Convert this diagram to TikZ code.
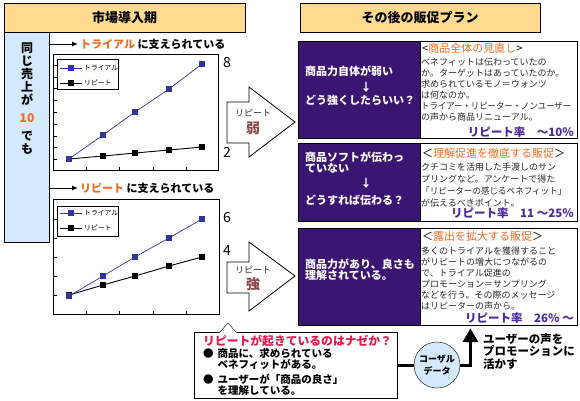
\documentclass[tikz,border=0pt]{standalone}
\usepackage{fontspec}
\setmainfont{Noto Sans CJK JP}
\usetikzlibrary{arrows.meta,positioning}
\definecolor{MktHead}{HTML}{FFDA8F}
\definecolor{MktSky}{HTML}{D4EAFC}
\definecolor{MktPlum}{HTML}{3A1572}
\definecolor{MktOrange}{HTML}{F26B1D}
\definecolor{MktRate}{HTML}{4B2A99}
\definecolor{MktRed}{HTML}{E8174A}
\definecolor{MktNavy}{HTML}{333399}
\definecolor{MktBrown}{HTML}{8A4848}
\definecolor{MktInk}{HTML}{2A2A2A}
\tikzset{
  mkthead/.style={
    draw=black,
    fill=MktHead,
    minimum height=29pt,
    inner sep=0pt,
    font=\bfseries\fontsize{13}{15}\selectfont
  },
  mktplum/.style={draw=black,fill=MktPlum,minimum width=122pt,inner sep=0pt},
  mktnote/.style={draw=black,fill=white,minimum width=157pt,inner sep=0pt},
  mktplumtext/.style={anchor=west,inner sep=0pt,align=left,text=white,font=\bfseries\fontsize{11}{11}\selectfont},
  mkttitle/.style={anchor=west,inner sep=0pt,font=\fontsize{11}{12}\selectfont},
  mktbody/.style={anchor=north west,inner sep=0pt,align=left,text=MktInk,font=\fontsize{9}{11}\selectfont},
  mktrate/.style={anchor=east,inner sep=0pt,text=MktRate,font=\bfseries\fontsize{11.5}{12}\selectfont},
  mktcap/.style={anchor=west,inner sep=0pt,font=\bfseries\fontsize{11}{12}\selectfont},
  mktchart/.style={draw=black,fill=white,inner sep=0pt},
  mktlegend/.style={anchor=west,inner sep=0pt,font=\fontsize{6.8}{7}\selectfont},
  mktnum/.style={inner sep=0pt,font=\fontsize{14}{16}\selectfont},
  mktbig/.style={draw=black,fill=white,line width=0.8pt,line join=miter},
  mktsmall/.style={inner sep=0pt,text=MktInk,font=\fontsize{9}{10}\selectfont},
  mktmark/.style={inner sep=0pt,text=MktBrown,font=\bfseries\fontsize{14}{15}\selectfont},
  mktwhy/.style={anchor=west,inner sep=0pt,align=left,font=\bfseries\fontsize{10.5}{10.5}\selectfont},
  mkttrial/.style={draw=MktNavy,line width=0.7pt},
  mktrepeat/.style={draw=black,line width=0.9pt},
  mktpointer/.style={-{Latex[length=6pt,width=5pt]},line width=1pt,shorten >=2pt},
  mktthick/.style={line width=3pt}
}
\begin{document}
\begin{tikzpicture}[x=1pt,y=-1pt]
    \useasboundingbox (0,0) rectangle (580,400);
    \node[mkthead,minimum width=241pt] (stagehead) at (124.5,17.5) {市場導入期};
    \node[mkthead,minimum width=240pt] (planhead) at (420,17.5) {その後の販促プラン};
    \node[draw=black,fill=MktSky,minimum width=45pt,minimum height=210pt,inner sep=0pt] (samecol) at (26.5,137) {};
    \node[align=center,inner sep=0pt,font=\bfseries\fontsize{12}{13}\selectfont] (samelbl) at (27,99) {同\\じ\\売\\上\\が\\[5pt]{\color{MktOrange}10}\\[5pt]で\\も};
    \node[mktcap] (trialcap) at (80,44) {{\color{MktOrange}トライアル} に支えられている};
    \node[mktcap] (repeatcap) at (80,188) {{\color{MktOrange}リピート} に支えられている};
    \draw[mktpointer] (samecol.east |- trialcap.west) -- (trialcap.west);
    \draw[mktpointer] (samecol.east |- repeatcap.west) -- (repeatcap.west);
    \node[mktchart,minimum width=165pt,minimum height=116pt] (chartA) at (135.5,112) {};
    \node[mktchart,minimum width=166pt,minimum height=115pt] (chartB) at (136,256.5) {};
    \foreach \ty in {65,77,88,100,112,124,136,147,159}
      \draw (53,\ty) -- (57,\ty);
    \foreach \ty in {219,238,257,276,295}
      \draw (53,\ty) -- (57,\ty);
    \foreach \tx in {86,119,153,186} {
      \draw (\tx,170) -- (\tx,167);
      \draw (\tx,314) -- (\tx,311);
    }
    \draw[mktrepeat] (69,159) -- (103,156) -- (135,153) -- (169,150) -- (202,147);
    \draw[mkttrial] (69,159) -- (103,135) -- (135,112) -- (169,89) -- (202,64);
    \draw[mktrepeat] (69,295) -- (103,285) -- (135,276) -- (169,266) -- (202,257);
    \draw[mkttrial] (69,296) -- (103,276) -- (135,257) -- (169,238) -- (202,219);
    \foreach \px/\py in {69/159,103/156,135/153,169/150,202/147,69/295,103/285,135/276,169/266,202/257}
      \fill (\px-3,\py-3) rectangle (\px+3,\py+3);
    \foreach \px/\py in {69/159,103/135,135/112,169/89,202/64,69/296,103/276,135/257,169/238,202/219}
      \fill[MktNavy] (\px-3,\py-3) rectangle (\px+3,\py+3);
    \node[mktchart,minimum width=61pt,minimum height=30pt] (legendA) at (87.5,74) {};
    \node[mktchart,minimum width=61pt,minimum height=30pt] (legendB) at (87.5,221) {};
    \foreach \ly in {68,213} {
      \draw[MktNavy,line width=0.7pt] (60,\ly) -- (82,\ly);
      \fill[MktNavy] (68,\ly-3) rectangle (74,\ly+3);
      \draw[line width=0.9pt] (60,\ly+15) -- (82,\ly+15);
      \fill (68,\ly+12) rectangle (74,\ly+18);
    }
    \node[mktlegend] (legendAtrial) at (84,68) {トライアル};
    \node[mktlegend] (legendArepeat) at (84,83) {リピート};
    \node[mktlegend] (legendBtrial) at (84,213) {トライアル};
    \node[mktlegend] (legendBrepeat) at (84,228) {リピート};
    \node[mktnum] (topA) at (227,63) {8};
    \node[mktnum] (lowA) at (227,152) {2};
    \node[mktnum] (topB) at (227,218) {6};
    \node[mktnum] (lowB) at (227,250) {4};
    \draw[mktbig] (227,102) -- (249,102) -- (249,87) -- (295,122) -- (249,157) -- (249,143) -- (227,143) -- cycle;
    \draw[mktbig] (227,262) -- (249,262) -- (249,242) -- (295,276) -- (249,311) -- (249,293) -- (227,293) -- cycle;
    \node[mktsmall] (weaklbl) at (253,113) {リピート};
    \node[mktmark] (weakmark) at (253,128) {弱};
    \node[mktsmall] (stronglbl) at (253,270) {リピート};
    \node[mktmark] (strongmark) at (253,284) {強};
    \node[mktplum,minimum height=97pt] (weakplan) at (359,89.5) {};
    \node[mktnote,minimum height=97pt,right=0pt of weakplan] (weaknote) {};
    \node[mktplum,minimum height=78pt] (softplan) at (359,182) {};
    \node[mktnote,minimum height=78pt,right=0pt of softplan] (softnote) {};
    \node[mktplum,minimum height=97pt] (goodplan) at (359,276.5) {};
    \node[mktnote,minimum height=97pt,right=0pt of goodplan] (goodnote) {};
    \node[mktplumtext] (weakq) at (305,71) {商品力自体が弱い};
    \node[inner sep=0pt,text=white,font=\bfseries\fontsize{11}{11}\selectfont] (weakdown) at (366,87) {↓};
    \node[mktplumtext] (weakhow) at (305,100) {どう強くしたらいい？};
    \node[mktplumtext] (softq) at (305,162.5) {商品ソフトが伝わっ\\ていない};
    \node[inner sep=0pt,text=white,font=\bfseries\fontsize{11}{11}\selectfont] (softdown) at (366,183) {↓};
    \node[mktplumtext] (softhow) at (305,200) {どうすれば伝わる？};
    \node[mktplumtext] (goodq) at (305,269.5) {商品力があり、良さも\\理解されている。};
    \node[mkttitle] (weaktitle) at (422,48) {<{\color{MktOrange}商品全体の見直し}>};
    \node[mkttitle] (softtitle) at (422,153) {＜{\color{MktOrange}理解促進を徹底する販促}＞};
    \node[mkttitle] (goodtitle) at (422,236) {＜{\color{MktOrange}露出を拡大する販促}＞};
    \node[mktbody] (weakbody) at (421,57.5) {ベネフィットは伝わっていたの\\か。ターゲットはあっていたのか。\\求められているモノ＝ウォンツ\\は何なのか。\\\scalebox{0.93}[1]{トライアー・リピーター・ノンユーザー}\\の声から商品リニューアル。};
    \node[mktbody,font=\fontsize{9}{12}\selectfont] (softbody) at (421,162.5) {クチコミを活用した手渡しのサン\\プリングなど。アンケートで得た\\\scalebox{0.95}[1]{「リピーターの感じるベネフィット」}\\が伝えるべきポイント。};
    \node[mktbody] (goodbody) at (421,246.5) {多くのトライアルを獲得すること\\がリピートの増大につながるの\\で、トライアル促進の\\プロモーション＝サンプリング\\などを行う。その際のメッセージ\\はリピーターの声から。};
    \node[mktrate] (weakrate) at (574,132) {リピート率　～10％};
    \node[mktrate] (softrate) at (574,213) {リピート率　11 ～25％};
    \node[mktrate] (goodrate) at (574,318) {リピート率　26％ ～};
    \node[draw=black,fill=white,minimum width=203pt,minimum height=66pt,inner sep=0pt] (whybox) at (295.5,365) {};
    \fill[white] (219.5,332.8) -- (228,323) -- (236.5,332.8) -- cycle;
    \draw (220,332) -- (228,323) -- (236,332);
    \node[anchor=west,inner sep=0pt,text=MktRed,font=\bfseries\fontsize{11.8}{12}\selectfont] (whytitle) at (203,341) {リピートが起きているのはナゼか？};
    \node[mktwhy] (whyone) at (203,359) {●\hspace{4pt}商品に、求められている\\\hspace*{14.5pt}ベネフィットがある。};
    \node[mktwhy] (whytwo) at (203,385) {●\hspace{4pt}ユーザーが「商品の良さ」\\\hspace*{14.5pt}を理解している。};
    \node[circle,draw=black,fill=MktSky,minimum size=46pt,inner sep=0pt,align=center,font=\bfseries\fontsize{9}{12}\selectfont] (causal) at (437,365) {コーザル\\データ};
    \node[anchor=north west,inner sep=0pt,align=left,font=\bfseries\fontsize{11.5}{12.5}\selectfont] (voicetxt) at (483,333) {ユーザーの声を\\プロモーションに\\活かす};
    \draw[mktthick] (whybox.east) -- (causal.west);
    \draw[mktthick,-{Triangle[length=14pt,width=15pt]},shorten >=3pt] (causal.east) -| ([xshift=-28.5pt]goodnote.south);
  \end{tikzpicture}
\end{document}
